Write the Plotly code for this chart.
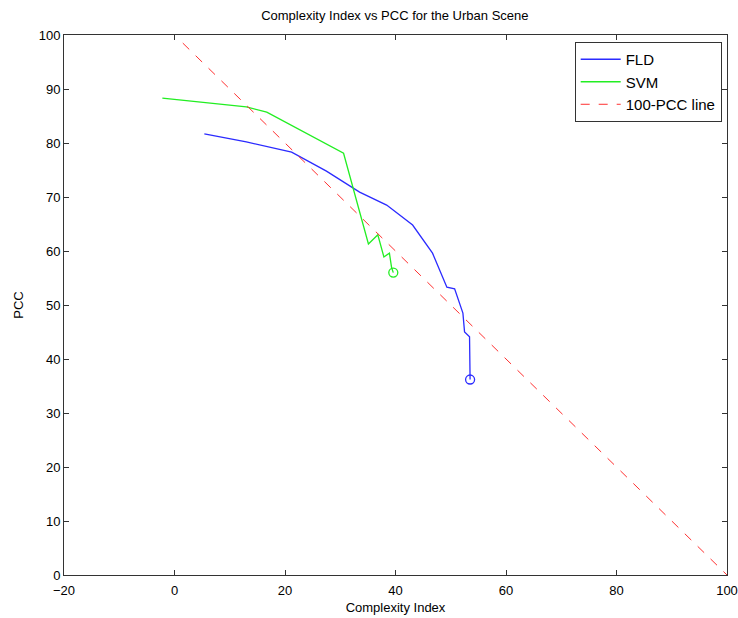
import plotly.graph_objects as go

fld_x = [5.4, 13.0, 21.2, 27.5, 33.5, 38.4, 43.1, 46.7, 49.3, 50.7, 52.2, 52.5, 53.4, 53.6, 53.5]
fld_y = [81.7, 80.2, 78.3, 74.8, 70.9, 68.5, 64.8, 59.6, 53.3, 53.0, 48.5, 45.0, 44.1, 37.4, 36.2]

svm_x = [-2.2, 13.0, 16.7, 30.6, 35.1, 36.8, 37.9, 38.9, 39.3, 39.6]
svm_y = [88.3, 86.7, 85.7, 78.1, 61.3, 63.0, 58.9, 59.6, 56.9, 56.0]

ref_x = [1.5, 100]
ref_y = [100 - v for v in ref_x]

font = "Liberation Sans Narrow, Liberation Sans, Arial, sans-serif"

fig = go.Figure()
fig.add_trace(go.Scatter(x=fld_x, y=fld_y, mode="lines", name="FLD",
                         line=dict(color="#2b2bff", width=1.3)))
fig.add_trace(go.Scatter(x=svm_x, y=svm_y, mode="lines", name="SVM",
                         line=dict(color="#22ee22", width=1.3)))
fig.add_trace(go.Scatter(x=ref_x, y=ref_y, mode="lines", name="100-PCC line",
                         line=dict(color="#ff3030", width=1, dash="dash")))
fig.add_trace(go.Scatter(x=[fld_x[-1]], y=[fld_y[-1]], mode="markers", showlegend=False,
                         marker=dict(symbol="circle-open", size=9, color="#2b2bff", line=dict(width=1.3))))
fig.add_trace(go.Scatter(x=[svm_x[-1]], y=[svm_y[-1]], mode="markers", showlegend=False,
                         marker=dict(symbol="circle-open", size=9, color="#22ee22", line=dict(width=1.3))))

axis_common = dict(showgrid=False, zeroline=False, showline=True, linecolor="#333333", linewidth=1,
                   mirror="ticks", ticks="inside", ticklen=5, tickcolor="#333333", automargin=False,
                   tickfont=dict(family=font, size=13, color="black"))

fig.update_layout(
    width=738, height=618,
    margin=dict(l=64, r=11, t=35, b=43),
    paper_bgcolor="white", plot_bgcolor="white",
    font=dict(family=font, size=13, color="black"),
    title=dict(text="Complexity Index vs PCC for the Urban Scene", x=0.535, xanchor="center",
               y=0.975, yanchor="middle", font=dict(family=font, size=13, color="black")),
    xaxis=dict(range=[-20, 100], tickvals=[-20, 0, 20, 40, 60, 80, 100], ticklabelstandoff=3,
               title=dict(text="Complexity Index", standoff=6, font=dict(family=font, size=13)),
               **axis_common),
    yaxis=dict(range=[0, 100], tickvals=list(range(0, 101, 10)),
               title=dict(text="PCC", standoff=12, font=dict(family=font, size=13)),
               **axis_common),
    legend=dict(x=0.992, y=0.987, xanchor="right", yanchor="top", bgcolor="white",
                bordercolor="#333333", borderwidth=1, font=dict(family=font, size=15),
                tracegroupgap=0, itemwidth=40),
    showlegend=True,
)

fig.write_html("out.html")
